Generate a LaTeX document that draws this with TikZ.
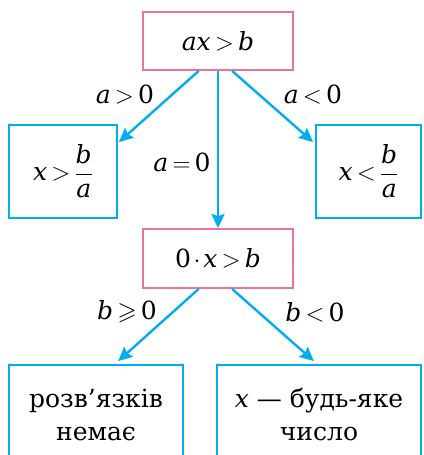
\RequirePackage{fix-cm}
\documentclass[tikz,border=0pt]{standalone}
\usepackage{amssymb}
\usepackage{amsmath}
\usepackage{fontspec}
\setmainfont{DejaVu Serif}
\usetikzlibrary{arrows.meta,calc}
\definecolor{boxpink}{RGB}{236,112,160}
\definecolor{arrcyan}{RGB}{0,174,239}
\newcommand\vi[1]{\text{\itshape #1}}
\newcommand\vd[1]{\text{#1}}
\AtBeginDocument{\thickmuskip=3mu\relax\medmuskip=2mu\relax}
\begin{document}
\begin{tikzpicture}[x=1pt,y=-1pt,font=\fontsize{25}{33}\selectfont,
  pinkbox/.style={draw=boxpink,line width=1.8pt,inner sep=0pt,minimum width=150pt,minimum height=58pt},
  cyanbox/.style={draw=arrcyan,line width=1.8pt,inner sep=0pt},
  arr/.style={draw=arrcyan,line width=2.4pt,-{Stealth[length=14pt,width=13pt,inset=2pt]}},
  lbl/.style={inner sep=0pt}]
\useasboundingbox (0,0) rectangle (423,455);
\clip (0,0) rectangle (423,455);
\node[pinkbox] (top) at (218,41) {$\vi{ax}>\vi{b}$};
\node[cyanbox,minimum width=108pt,minimum height=93pt] (left) at (63,171.5) {$\vi{x}>\dfrac{\vi{b}}{\vi{a}}$};
\node[cyanbox,minimum width=105pt,minimum height=93pt] (right) at (368.5,171.5) {$\vi{x}<\dfrac{\vi{b}}{\vi{a}}$};
\node[pinkbox,minimum height=59pt] (mid) at (218,258.5) {$\vd{0}\cdot\vi{x}>\vi{b}$};
\node[cyanbox,minimum width=174pt,minimum height=99pt,align=center] (bl) at (96,414.5) {розв’язків\\немає};
\node[cyanbox,minimum width=204pt,minimum height=99pt,align=center] (br) at (319,414.5) {\textit{x} — будь-яке\\число};
\draw[arr] ($(top.south west)!0.373!(top.south east)$) -- ($(left.north east)+(1,18)$);
\draw[arr] (top.south) -- (mid.north);
\draw[arr] ($(top.south west)!0.593!(top.south east)$) -- ($(right.north west)+(-2,18)$);
\draw[arr] ($(mid.south west)!0.373!(mid.south east)$) -- ($(bl.north west)!0.626!(bl.north east)+(0,-3)$);
\draw[arr] ($(mid.south west)!0.593!(mid.south east)$) -- ($(br.north west)!0.475!(br.north east)+(0,-3)$);
\node[lbl] (l1) at (125,95) {$\vi{a}>\vd{0}$};
\node[lbl] (l2) at (182,162) {$\vi{a}=\vd{0}$};
\node[lbl] (l3) at (313,95) {$\vi{a}<\vd{0}$};
\node[lbl] (l4) at (127,312) {$\vi{b}\geqslant\vd{0}$};
\node[lbl] (l5) at (315,312) {$\vi{b}<\vd{0}$};
\end{tikzpicture}
\end{document}
